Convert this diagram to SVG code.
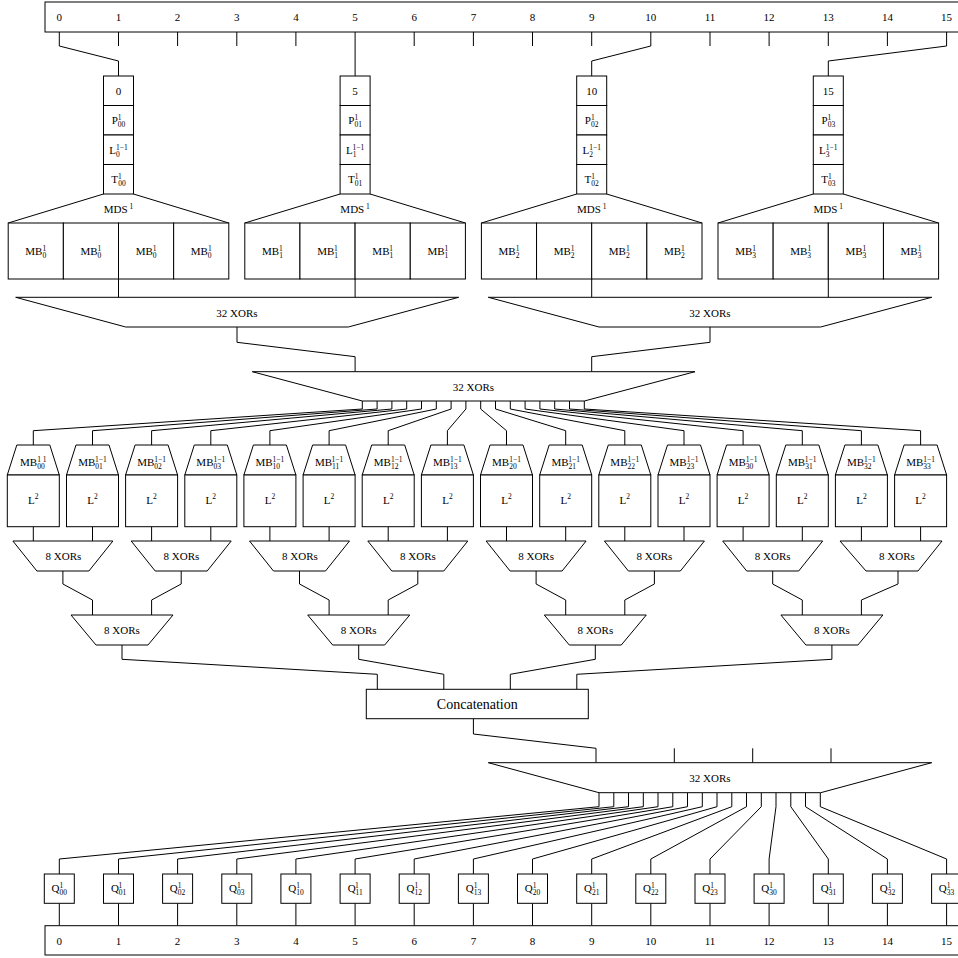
<svg xmlns="http://www.w3.org/2000/svg" width="958" height="958" viewBox="0 0 958 958" font-family="'Liberation Serif', 'Times New Roman', serif">
<style>
.ln{fill:none;stroke:#000;stroke-width:1}
.bx{fill:#fff;stroke:#000;stroke-width:1}
text{font-family:'Liberation Serif','Times New Roman',serif;font-size:11px;fill:#000;text-anchor:middle}
.s{font-size:7.5px}
.big{font-size:14px}
</style>
<rect width="958" height="958" fill="#fff"/>

<g id="connectors">
<path class="ln" d="M118.5 32V46M177.6 32V46M236.8 32V46M295.9 32V46M414.2 32V46M473.4 32V46M532.5 32V46M591.7 32V46M710 32V46M769.1 32V46M828.3 32V46M887.4 32V46"/>
<path class="ln" d="M59.3 32V46L118.5 61V76"/>
<path class="ln" d="M355.1 32V76"/>
<path class="ln" d="M650.8 32V46L591.7 61V76"/>
<path class="ln" d="M946.6 32V46L828.3 61V76"/>
<path class="ln" d="M103.5 194L8.2 223M133.5 194L228.8 223M340.1 194L244.8 223M370.1 194L465.4 223M576.7 194L481.4 223M606.7 194L702 223M813.3 194L718 223M843.3 194L938.6 223"/>
<path class="ln" d="M118.5 279V297.3M355.1 279V297.3M591.7 279V297.3M828.3 279V297.3"/>
<path class="ln" d="M237 327V342.3L355.1 356.7V371.7M710 327V342.3L591.7 356.7V371.7"/>
<path class="ln" d="M362.3 401V409L33.3 430.7V445"/>
<path class="ln" d="M377.1 401V409L92.5 430.7V445"/>
<path class="ln" d="M391.9 401V409L151.6 430.7V445"/>
<path class="ln" d="M406.7 401V409L210.8 430.7V445"/>
<path class="ln" d="M421.5 401V409L269.9 430.7V445"/>
<path class="ln" d="M436.3 401V409L329.1 430.7V445"/>
<path class="ln" d="M451.1 401V409L388.2 430.7V445"/>
<path class="ln" d="M465.9 401V409L447.4 430.7V445"/>
<path class="ln" d="M480.7 401V409L506.5 430.7V445"/>
<path class="ln" d="M495.5 401V409L565.7 430.7V445"/>
<path class="ln" d="M510.3 401V409L624.8 430.7V445"/>
<path class="ln" d="M525.1 401V409L684 430.7V445"/>
<path class="ln" d="M539.9 401V409L743.1 430.7V445"/>
<path class="ln" d="M554.7 401V409L802.3 430.7V445"/>
<path class="ln" d="M569.5 401V409L861.4 430.7V445"/>
<path class="ln" d="M584.3 401V409L920.6 430.7V445"/>
<path class="ln" d="M33.3 526.7V541M92.5 526.7V541M151.6 526.7V541M210.8 526.7V541M269.9 526.7V541M329.1 526.7V541M388.2 526.7V541M447.4 526.7V541M506.5 526.7V541M565.7 526.7V541M624.8 526.7V541M684 526.7V541M743.1 526.7V541M802.3 526.7V541M861.4 526.7V541M920.6 526.7V541"/>
<path class="ln" d="M62.9 571V584L92.5 600V615"/>
<path class="ln" d="M181.2 571V584L151.6 600V615"/>
<path class="ln" d="M299.5 571V584L329.1 600V615"/>
<path class="ln" d="M417.8 571V584L388.2 600V615"/>
<path class="ln" d="M536.1 571V584L565.7 600V615"/>
<path class="ln" d="M654.4 571V584L624.8 600V615"/>
<path class="ln" d="M772.7 571V584L802.3 600V615"/>
<path class="ln" d="M898 571V584L861.4 600V615"/>
<path class="ln" d="M122 645V659.3L377.3 674.3V689.3"/>
<path class="ln" d="M358.7 645V659.3L443.8 674.3V689.3"/>
<path class="ln" d="M595.3 645V659.3L510.3 674.3V689.3"/>
<path class="ln" d="M831.9 645V659.3L576.8 674.3V689.3"/>
<path class="ln" d="M473.4 718.7V734L596 748.3V762.7"/>
<path class="ln" d="M674.3 748.3V762.7M752.7 748.3V762.7M831 748.3V762.7"/>
<path class="ln" d="M599 792.7V806.7L59.3 859V874"/>
<path class="ln" d="M613.8 792.7V806.7L118.5 859V874"/>
<path class="ln" d="M628.5 792.7V806.7L177.6 859V874"/>
<path class="ln" d="M643.3 792.7V806.7L236.8 859V874"/>
<path class="ln" d="M658 792.7V806.7L295.9 859V874"/>
<path class="ln" d="M672.8 792.7V806.7L355.1 859V874"/>
<path class="ln" d="M687.5 792.7V806.7L414.2 859V874"/>
<path class="ln" d="M702.3 792.7V806.7L473.4 859V874"/>
<path class="ln" d="M717 792.7V806.7L532.5 859V874"/>
<path class="ln" d="M731.8 792.7V806.7L591.7 859V874"/>
<path class="ln" d="M746.5 792.7V806.7L650.8 859V874"/>
<path class="ln" d="M761.3 792.7V806.7L710 859V874"/>
<path class="ln" d="M776 792.7V806.7L769.1 859V874"/>
<path class="ln" d="M790.8 792.7V806.7L828.3 859V874"/>
<path class="ln" d="M805.5 792.7V806.7L887.4 859V874"/>
<path class="ln" d="M820.3 792.7V806.7L946.6 859V874"/>
<path class="ln" d="M59.3 903.3V925.7M118.5 903.3V925.7M177.6 903.3V925.7M236.8 903.3V925.7M295.9 903.3V925.7M355.1 903.3V925.7M414.2 903.3V925.7M473.4 903.3V925.7M532.5 903.3V925.7M591.7 903.3V925.7M650.8 903.3V925.7M710 903.3V925.7M769.1 903.3V925.7M828.3 903.3V925.7M887.4 903.3V925.7M946.6 903.3V925.7"/>
</g>

<g id="input-bar">
<rect class="bx" x="45" y="2" width="916" height="30"/>
<text x="59.3" y="21">0</text><text x="118.5" y="21">1</text><text x="177.6" y="21">2</text><text x="236.8" y="21">3</text><text x="295.9" y="21">4</text><text x="355.1" y="21">5</text><text x="414.2" y="21">6</text><text x="473.4" y="21">7</text><text x="532.5" y="21">8</text><text x="591.7" y="21">9</text><text x="650.8" y="21">10</text><text x="710" y="21">11</text><text x="769.1" y="21">12</text><text x="828.3" y="21">13</text><text x="887.4" y="21">14</text><text x="946.6" y="21">15</text>
</g>

<g id="tower0">
<rect class="bx" x="103.5" y="76" width="30" height="29.5"/><rect class="bx" x="103.5" y="105.5" width="30" height="29.5"/><rect class="bx" x="103.5" y="135" width="30" height="29.5"/><rect class="bx" x="103.5" y="164.5" width="30" height="29.5"/>
<text x="118.5" y="94.5">0</text>
<text x="118.5" y="124">P<tspan class="s" dy="-4">1</tspan><tspan class="s" dx="-3.7" dy="7">00</tspan></text>
<text x="118.5" y="153.5">L<tspan class="s" dy="3">0</tspan><tspan class="s" dx="-3.7" dy="-7">1−1</tspan></text>
<text x="118.5" y="183">T<tspan class="s" dy="-4">1</tspan><tspan class="s" dx="-3.7" dy="7">00</tspan></text>
</g>
<g id="tower1">
<rect class="bx" x="340.1" y="76" width="30" height="29.5"/><rect class="bx" x="340.1" y="105.5" width="30" height="29.5"/><rect class="bx" x="340.1" y="135" width="30" height="29.5"/><rect class="bx" x="340.1" y="164.5" width="30" height="29.5"/>
<text x="355.1" y="94.5">5</text>
<text x="355.1" y="124">P<tspan class="s" dy="-4">1</tspan><tspan class="s" dx="-3.7" dy="7">01</tspan></text>
<text x="355.1" y="153.5">L<tspan class="s" dy="3">1</tspan><tspan class="s" dx="-3.7" dy="-7">1−1</tspan></text>
<text x="355.1" y="183">T<tspan class="s" dy="-4">1</tspan><tspan class="s" dx="-3.7" dy="7">01</tspan></text>
</g>
<g id="tower2">
<rect class="bx" x="576.7" y="76" width="30" height="29.5"/><rect class="bx" x="576.7" y="105.5" width="30" height="29.5"/><rect class="bx" x="576.7" y="135" width="30" height="29.5"/><rect class="bx" x="576.7" y="164.5" width="30" height="29.5"/>
<text x="591.7" y="94.5">10</text>
<text x="591.7" y="124">P<tspan class="s" dy="-4">1</tspan><tspan class="s" dx="-3.7" dy="7">02</tspan></text>
<text x="591.7" y="153.5">L<tspan class="s" dy="3">2</tspan><tspan class="s" dx="-3.7" dy="-7">1−1</tspan></text>
<text x="591.7" y="183">T<tspan class="s" dy="-4">1</tspan><tspan class="s" dx="-3.7" dy="7">02</tspan></text>
</g>
<g id="tower3">
<rect class="bx" x="813.3" y="76" width="30" height="29.5"/><rect class="bx" x="813.3" y="105.5" width="30" height="29.5"/><rect class="bx" x="813.3" y="135" width="30" height="29.5"/><rect class="bx" x="813.3" y="164.5" width="30" height="29.5"/>
<text x="828.3" y="94.5">15</text>
<text x="828.3" y="124">P<tspan class="s" dy="-4">1</tspan><tspan class="s" dx="-3.7" dy="7">03</tspan></text>
<text x="828.3" y="153.5">L<tspan class="s" dy="3">3</tspan><tspan class="s" dx="-3.7" dy="-7">1−1</tspan></text>
<text x="828.3" y="183">T<tspan class="s" dy="-4">1</tspan><tspan class="s" dx="-3.7" dy="7">03</tspan></text>
</g>

<g id="mds0">
<rect class="bx" x="8.2" y="223" width="55.15" height="56"/><rect class="bx" x="63.35" y="223" width="55.15" height="56"/><rect class="bx" x="118.5" y="223" width="55.15" height="56"/><rect class="bx" x="173.65" y="223" width="55.15" height="56"/>
<text x="118.5" y="213">MDS<tspan class="s" dy="-4"> 1</tspan></text>
<text x="35.8" y="255">MB<tspan class="s" dy="3">0</tspan><tspan class="s" dx="-3.7" dy="-7">1</tspan></text><text x="90.9" y="255">MB<tspan class="s" dy="3">0</tspan><tspan class="s" dx="-3.7" dy="-7">1</tspan></text><text x="146.1" y="255">MB<tspan class="s" dy="3">0</tspan><tspan class="s" dx="-3.7" dy="-7">1</tspan></text><text x="201.2" y="255">MB<tspan class="s" dy="3">0</tspan><tspan class="s" dx="-3.7" dy="-7">1</tspan></text>
</g>
<g id="mds1">
<rect class="bx" x="244.8" y="223" width="55.15" height="56"/><rect class="bx" x="299.95" y="223" width="55.15" height="56"/><rect class="bx" x="355.1" y="223" width="55.15" height="56"/><rect class="bx" x="410.25" y="223" width="55.15" height="56"/>
<text x="355.1" y="213">MDS<tspan class="s" dy="-4"> 1</tspan></text>
<text x="272.4" y="255">MB<tspan class="s" dy="3">1</tspan><tspan class="s" dx="-3.7" dy="-7">1</tspan></text><text x="327.5" y="255">MB<tspan class="s" dy="3">1</tspan><tspan class="s" dx="-3.7" dy="-7">1</tspan></text><text x="382.7" y="255">MB<tspan class="s" dy="3">1</tspan><tspan class="s" dx="-3.7" dy="-7">1</tspan></text><text x="437.8" y="255">MB<tspan class="s" dy="3">1</tspan><tspan class="s" dx="-3.7" dy="-7">1</tspan></text>
</g>
<g id="mds2">
<rect class="bx" x="481.4" y="223" width="55.15" height="56"/><rect class="bx" x="536.55" y="223" width="55.15" height="56"/><rect class="bx" x="591.7" y="223" width="55.15" height="56"/><rect class="bx" x="646.85" y="223" width="55.15" height="56"/>
<text x="591.7" y="213">MDS<tspan class="s" dy="-4"> 1</tspan></text>
<text x="509" y="255">MB<tspan class="s" dy="3">2</tspan><tspan class="s" dx="-3.7" dy="-7">1</tspan></text><text x="564.1" y="255">MB<tspan class="s" dy="3">2</tspan><tspan class="s" dx="-3.7" dy="-7">1</tspan></text><text x="619.3" y="255">MB<tspan class="s" dy="3">2</tspan><tspan class="s" dx="-3.7" dy="-7">1</tspan></text><text x="674.4" y="255">MB<tspan class="s" dy="3">2</tspan><tspan class="s" dx="-3.7" dy="-7">1</tspan></text>
</g>
<g id="mds3">
<rect class="bx" x="718" y="223" width="55.15" height="56"/><rect class="bx" x="773.15" y="223" width="55.15" height="56"/><rect class="bx" x="828.3" y="223" width="55.15" height="56"/><rect class="bx" x="883.45" y="223" width="55.15" height="56"/>
<text x="828.3" y="213">MDS<tspan class="s" dy="-4"> 1</tspan></text>
<text x="745.6" y="255">MB<tspan class="s" dy="3">3</tspan><tspan class="s" dx="-3.7" dy="-7">1</tspan></text><text x="800.7" y="255">MB<tspan class="s" dy="3">3</tspan><tspan class="s" dx="-3.7" dy="-7">1</tspan></text><text x="855.9" y="255">MB<tspan class="s" dy="3">3</tspan><tspan class="s" dx="-3.7" dy="-7">1</tspan></text><text x="911" y="255">MB<tspan class="s" dy="3">3</tspan><tspan class="s" dx="-3.7" dy="-7">1</tspan></text>
</g>

<g id="xor32a"><polygon class="bx" points="15.7,297.3 458.7,297.3 348.3,327 125.7,327"/><text x="237" y="317">32 XORs</text></g>
<g id="xor32b"><polygon class="bx" points="488.3,297.3 931.7,297.3 820.7,327 599,327"/><text x="710" y="317">32 XORs</text></g>
<g id="xor32c"><polygon class="bx" points="252.3,371.7 695,371.7 584.3,401 362.3,401"/><text x="473.5" y="391">32 XORs</text></g>

<g id="mbinv">
<g id="mbi00"><polygon class="bx" points="16.8,445 49.8,445 59.3,475 7.3,475"/><rect class="bx" x="7.3" y="475" width="52" height="51.7"/><text x="33.3" y="466">MB<tspan class="s" dy="3">00</tspan><tspan class="s" dx="-7.5" dy="-7">1  1</tspan></text><text x="33.3" y="504">L<tspan class="s" dy="-5">2</tspan></text></g>
<g id="mbi01"><polygon class="bx" points="76,445 109,445 118.5,475 66.5,475"/><rect class="bx" x="66.5" y="475" width="52" height="51.7"/><text x="92.5" y="466">MB<tspan class="s" dy="3">01</tspan><tspan class="s" dx="-7.5" dy="-7">1−1</tspan></text><text x="92.5" y="504">L<tspan class="s" dy="-5">2</tspan></text></g>
<g id="mbi02"><polygon class="bx" points="135.1,445 168.1,445 177.6,475 125.6,475"/><rect class="bx" x="125.6" y="475" width="52" height="51.7"/><text x="151.6" y="466">MB<tspan class="s" dy="3">02</tspan><tspan class="s" dx="-7.5" dy="-7">1−1</tspan></text><text x="151.6" y="504">L<tspan class="s" dy="-5">2</tspan></text></g>
<g id="mbi03"><polygon class="bx" points="194.3,445 227.3,445 236.8,475 184.8,475"/><rect class="bx" x="184.8" y="475" width="52" height="51.7"/><text x="210.8" y="466">MB<tspan class="s" dy="3">03</tspan><tspan class="s" dx="-7.5" dy="-7">1−1</tspan></text><text x="210.8" y="504">L<tspan class="s" dy="-5">2</tspan></text></g>
<g id="mbi10"><polygon class="bx" points="253.4,445 286.4,445 295.9,475 243.9,475"/><rect class="bx" x="243.9" y="475" width="52" height="51.7"/><text x="269.9" y="466">MB<tspan class="s" dy="3">10</tspan><tspan class="s" dx="-7.5" dy="-7">1−1</tspan></text><text x="269.9" y="504">L<tspan class="s" dy="-5">2</tspan></text></g>
<g id="mbi11"><polygon class="bx" points="312.6,445 345.6,445 355.1,475 303.1,475"/><rect class="bx" x="303.1" y="475" width="52" height="51.7"/><text x="329.1" y="466">MB<tspan class="s" dy="3">11</tspan><tspan class="s" dx="-7.5" dy="-7">1−1</tspan></text><text x="329.1" y="504">L<tspan class="s" dy="-5">2</tspan></text></g>
<g id="mbi12"><polygon class="bx" points="371.7,445 404.7,445 414.2,475 362.2,475"/><rect class="bx" x="362.2" y="475" width="52" height="51.7"/><text x="388.2" y="466">MB<tspan class="s" dy="3">12</tspan><tspan class="s" dx="-7.5" dy="-7">1−1</tspan></text><text x="388.2" y="504">L<tspan class="s" dy="-5">2</tspan></text></g>
<g id="mbi13"><polygon class="bx" points="430.9,445 463.9,445 473.4,475 421.4,475"/><rect class="bx" x="421.4" y="475" width="52" height="51.7"/><text x="447.4" y="466">MB<tspan class="s" dy="3">13</tspan><tspan class="s" dx="-7.5" dy="-7">1−1</tspan></text><text x="447.4" y="504">L<tspan class="s" dy="-5">2</tspan></text></g>
<g id="mbi20"><polygon class="bx" points="490,445 523,445 532.5,475 480.5,475"/><rect class="bx" x="480.5" y="475" width="52" height="51.7"/><text x="506.5" y="466">MB<tspan class="s" dy="3">20</tspan><tspan class="s" dx="-7.5" dy="-7">1−1</tspan></text><text x="506.5" y="504">L<tspan class="s" dy="-5">2</tspan></text></g>
<g id="mbi21"><polygon class="bx" points="549.2,445 582.2,445 591.7,475 539.7,475"/><rect class="bx" x="539.7" y="475" width="52" height="51.7"/><text x="565.7" y="466">MB<tspan class="s" dy="3">21</tspan><tspan class="s" dx="-7.5" dy="-7">1−1</tspan></text><text x="565.7" y="504">L<tspan class="s" dy="-5">2</tspan></text></g>
<g id="mbi22"><polygon class="bx" points="608.3,445 641.3,445 650.8,475 598.8,475"/><rect class="bx" x="598.8" y="475" width="52" height="51.7"/><text x="624.8" y="466">MB<tspan class="s" dy="3">22</tspan><tspan class="s" dx="-7.5" dy="-7">1−1</tspan></text><text x="624.8" y="504">L<tspan class="s" dy="-5">2</tspan></text></g>
<g id="mbi23"><polygon class="bx" points="667.5,445 700.5,445 710,475 658,475"/><rect class="bx" x="658" y="475" width="52" height="51.7"/><text x="684" y="466">MB<tspan class="s" dy="3">23</tspan><tspan class="s" dx="-7.5" dy="-7">1−1</tspan></text><text x="684" y="504">L<tspan class="s" dy="-5">2</tspan></text></g>
<g id="mbi30"><polygon class="bx" points="726.6,445 759.6,445 769.1,475 717.1,475"/><rect class="bx" x="717.1" y="475" width="52" height="51.7"/><text x="743.1" y="466">MB<tspan class="s" dy="3">30</tspan><tspan class="s" dx="-7.5" dy="-7">1−1</tspan></text><text x="743.1" y="504">L<tspan class="s" dy="-5">2</tspan></text></g>
<g id="mbi31"><polygon class="bx" points="785.8,445 818.8,445 828.3,475 776.3,475"/><rect class="bx" x="776.3" y="475" width="52" height="51.7"/><text x="802.3" y="466">MB<tspan class="s" dy="3">31</tspan><tspan class="s" dx="-7.5" dy="-7">1−1</tspan></text><text x="802.3" y="504">L<tspan class="s" dy="-5">2</tspan></text></g>
<g id="mbi32"><polygon class="bx" points="844.9,445 877.9,445 887.4,475 835.4,475"/><rect class="bx" x="835.4" y="475" width="52" height="51.7"/><text x="861.4" y="466">MB<tspan class="s" dy="3">32</tspan><tspan class="s" dx="-7.5" dy="-7">1−1</tspan></text><text x="861.4" y="504">L<tspan class="s" dy="-5">2</tspan></text></g>
<g id="mbi33"><polygon class="bx" points="904.1,445 937.1,445 946.6,475 894.6,475"/><rect class="bx" x="894.6" y="475" width="52" height="51.7"/><text x="920.6" y="466">MB<tspan class="s" dy="3">33</tspan><tspan class="s" dx="-7.5" dy="-7">1−1</tspan></text><text x="920.6" y="504">L<tspan class="s" dy="-5">2</tspan></text></g>
</g>

<g id="xor8-level1">
<g id="x8a0"><polygon class="bx" points="12.9,541 112.9,541 88.9,571 36.9,571"/><text x="63.5" y="560">8 XORs</text></g>
<g id="x8a1"><polygon class="bx" points="131.2,541 231.2,541 207.2,571 155.2,571"/><text x="181.5" y="560">8 XORs</text></g>
<g id="x8a2"><polygon class="bx" points="249.5,541 349.5,541 325.5,571 273.5,571"/><text x="300" y="560">8 XORs</text></g>
<g id="x8a3"><polygon class="bx" points="367.8,541 467.8,541 443.8,571 391.8,571"/><text x="418" y="560">8 XORs</text></g>
<g id="x8a4"><polygon class="bx" points="486.1,541 586.1,541 562.1,571 510.1,571"/><text x="536.1" y="560">8 XORs</text></g>
<g id="x8a5"><polygon class="bx" points="604.4,541 704.4,541 680.4,571 628.4,571"/><text x="654.4" y="560">8 XORs</text></g>
<g id="x8a6"><polygon class="bx" points="722.7,541 822.7,541 798.7,571 746.7,571"/><text x="772.7" y="560">8 XORs</text></g>
<g id="x8a7"><polygon class="bx" points="840,541 942,541 918,571 866,571"/><text x="897" y="560">8 XORs</text></g>
</g>
<g id="xor8-level2">
<g id="x8b0"><polygon class="bx" points="71,615 173,615 148,645 96,645"/><text x="122" y="634">8 XORs</text></g>
<g id="x8b1"><polygon class="bx" points="307.7,615 409.7,615 384.7,645 332.7,645"/><text x="358.7" y="634">8 XORs</text></g>
<g id="x8b2"><polygon class="bx" points="544.3,615 646.3,615 621.3,645 569.3,645"/><text x="595.3" y="634">8 XORs</text></g>
<g id="x8b3"><polygon class="bx" points="780.9,615 882.9,615 857.9,645 805.9,645"/><text x="831.9" y="634">8 XORs</text></g>
</g>

<g id="concat"><rect class="bx" x="366.3" y="689.3" width="222" height="29.4"/><text class="big" x="477.3" y="709">Concatenation</text></g>

<g id="xor32d"><polygon class="bx" points="488.3,762.7 931.7,762.7 820.7,792.7 599,792.7"/><text x="710" y="782">32 XORs</text></g>

<g id="qboxes">
<g id="q00"><rect class="bx" x="44.3" y="874" width="30" height="29.3"/><text x="59.3" y="892">Q<tspan class="s" dy="3">00</tspan><tspan class="s" dx="-7.5" dy="-7">1</tspan></text></g>
<g id="q01"><rect class="bx" x="103.5" y="874" width="30" height="29.3"/><text x="118.5" y="892">Q<tspan class="s" dy="3">01</tspan><tspan class="s" dx="-7.5" dy="-7">1</tspan></text></g>
<g id="q02"><rect class="bx" x="162.6" y="874" width="30" height="29.3"/><text x="177.6" y="892">Q<tspan class="s" dy="3">02</tspan><tspan class="s" dx="-7.5" dy="-7">1</tspan></text></g>
<g id="q03"><rect class="bx" x="221.8" y="874" width="30" height="29.3"/><text x="236.8" y="892">Q<tspan class="s" dy="3">03</tspan><tspan class="s" dx="-7.5" dy="-7">1</tspan></text></g>
<g id="q10"><rect class="bx" x="280.9" y="874" width="30" height="29.3"/><text x="295.9" y="892">Q<tspan class="s" dy="3">10</tspan><tspan class="s" dx="-7.5" dy="-7">1</tspan></text></g>
<g id="q11"><rect class="bx" x="340.1" y="874" width="30" height="29.3"/><text x="355.1" y="892">Q<tspan class="s" dy="3">11</tspan><tspan class="s" dx="-7.5" dy="-7">1</tspan></text></g>
<g id="q12"><rect class="bx" x="399.2" y="874" width="30" height="29.3"/><text x="414.2" y="892">Q<tspan class="s" dy="3">12</tspan><tspan class="s" dx="-7.5" dy="-7">1</tspan></text></g>
<g id="q13"><rect class="bx" x="458.4" y="874" width="30" height="29.3"/><text x="473.4" y="892">Q<tspan class="s" dy="3">13</tspan><tspan class="s" dx="-7.5" dy="-7">1</tspan></text></g>
<g id="q20"><rect class="bx" x="517.5" y="874" width="30" height="29.3"/><text x="532.5" y="892">Q<tspan class="s" dy="3">20</tspan><tspan class="s" dx="-7.5" dy="-7">1</tspan></text></g>
<g id="q21"><rect class="bx" x="576.7" y="874" width="30" height="29.3"/><text x="591.7" y="892">Q<tspan class="s" dy="3">21</tspan><tspan class="s" dx="-7.5" dy="-7">1</tspan></text></g>
<g id="q22"><rect class="bx" x="635.8" y="874" width="30" height="29.3"/><text x="650.8" y="892">Q<tspan class="s" dy="3">22</tspan><tspan class="s" dx="-7.5" dy="-7">1</tspan></text></g>
<g id="q23"><rect class="bx" x="695" y="874" width="30" height="29.3"/><text x="710" y="892">Q<tspan class="s" dy="3">23</tspan><tspan class="s" dx="-7.5" dy="-7">1</tspan></text></g>
<g id="q30"><rect class="bx" x="754.1" y="874" width="30" height="29.3"/><text x="769.1" y="892">Q<tspan class="s" dy="3">30</tspan><tspan class="s" dx="-7.5" dy="-7">1</tspan></text></g>
<g id="q31"><rect class="bx" x="813.3" y="874" width="30" height="29.3"/><text x="828.3" y="892">Q<tspan class="s" dy="3">31</tspan><tspan class="s" dx="-7.5" dy="-7">1</tspan></text></g>
<g id="q32"><rect class="bx" x="872.4" y="874" width="30" height="29.3"/><text x="887.4" y="892">Q<tspan class="s" dy="3">32</tspan><tspan class="s" dx="-7.5" dy="-7">1</tspan></text></g>
<g id="q33"><rect class="bx" x="931.6" y="874" width="30" height="29.3"/><text x="946.6" y="892">Q<tspan class="s" dy="3">33</tspan><tspan class="s" dx="-7.5" dy="-7">1</tspan></text></g>
</g>

<g id="output-bar">
<rect class="bx" x="45" y="925.7" width="916" height="29.3"/>
<text x="59.3" y="945">0</text><text x="118.5" y="945">1</text><text x="177.6" y="945">2</text><text x="236.8" y="945">3</text><text x="295.9" y="945">4</text><text x="355.1" y="945">5</text><text x="414.2" y="945">6</text><text x="473.4" y="945">7</text><text x="532.5" y="945">8</text><text x="591.7" y="945">9</text><text x="650.8" y="945">10</text><text x="710" y="945">11</text><text x="769.1" y="945">12</text><text x="828.3" y="945">13</text><text x="887.4" y="945">14</text><text x="946.6" y="945">15</text>
</g>
</svg>
